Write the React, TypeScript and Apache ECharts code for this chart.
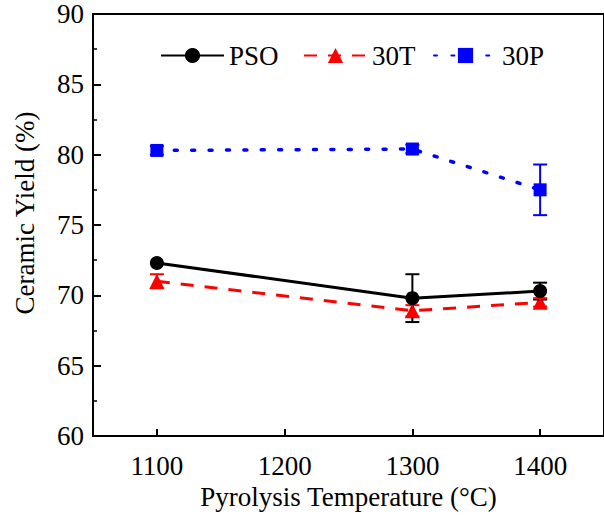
import React, { useEffect, useRef } from "react";
import * as echarts from "echarts";

const temperatures = [1100, 1300, 1400];
const xTicks = [1100, 1200, 1300, 1400];

const psoYield = [72.3, 69.8, 70.3];
const psoErr = [0, 1.7, 0.6];

const t30Yield = [71.0, 68.9, 69.5];
const t30Err = [0.5, 0.4, 0.3];

const p30Yield = [80.3, 80.4, 77.5];
const p30Err = [0.3, 0.3, 1.8];

const FONT = "'Liberation Serif', 'Times New Roman', serif";
const FS = 27;

function pairs(ys: number[]) {
  return temperatures.map((t, i) => [t, ys[i]]);
}

function errData(ys: number[], es: number[]) {
  return temperatures
    .map((t, i) => [t, ys[i] - es[i], ys[i] + es[i]])
    .filter((d) => d[2] - d[1] > 0);
}

function errorSeries(name: string, ys: number[], es: number[], color: string) {
  return {
    type: "custom",
    name,
    data: errData(ys, es),
    z: 3,
    renderItem: (params: any, api: any) => {
      const x = api.value(0);
      const lo = api.coord([x, api.value(1)]);
      const hi = api.coord([x, api.value(2)]);
      const hw = 7;
      const style = { stroke: color, lineWidth: 2 };
      return {
        type: "group",
        children: [
          { type: "line", shape: { x1: lo[0], y1: lo[1], x2: hi[0], y2: hi[1] }, style },
          { type: "line", shape: { x1: lo[0] - hw, y1: lo[1], x2: lo[0] + hw, y2: lo[1] }, style },
          { type: "line", shape: { x1: hi[0] - hw, y1: hi[1], x2: hi[0] + hw, y2: hi[1] }, style },
        ],
      };
    },
  };
}

function legendFor(name: string, left: number) {
  return {
    data: [name],
    left,
    top: 42,
    padding: 0,
    itemWidth: 63,
    itemHeight: 19,
    selectedMode: false,
    textStyle: { fontFamily: FONT, fontSize: FS, color: "#000" },
  };
}

export default function App() {
  const ref = useRef<HTMLDivElement>(null);

  useEffect(() => {
    if (!ref.current) return;
    const chart = echarts.init(ref.current, undefined, { renderer: "svg" });
    chart.setOption({
      animation: false,
      backgroundColor: "#fff",
      grid: {
        left: 93,
        right: -5,
        top: 14,
        bottom: 80,
        show: true,
        borderColor: "#000",
        borderWidth: 2,
      },
      legend: [legendFor("PSO", 160), legendFor("30T", 303), legendFor("30P", 433)],
      xAxis: {
        type: "value",
        min: 1050,
        max: 1450,
        name: "Pyrolysis Temperature (°C)",
        nameLocation: "middle",
        nameGap: 46,
        nameTextStyle: { fontFamily: FONT, fontSize: FS, color: "#000" },
        axisLine: { lineStyle: { color: "#000", width: 2 } },
        axisTick: {
          inside: true,
          length: 7,
          lineStyle: { color: "#000", width: 2 },
          customValues: xTicks,
        },
        axisLabel: {
          fontFamily: FONT,
          fontSize: FS,
          color: "#000",
          margin: 16,
          customValues: xTicks,
          formatter: (v: number) => String(v),
        },
        splitLine: { show: false },
      },
      yAxis: {
        type: "value",
        min: 60,
        max: 90,
        interval: 5,
        axisLine: { show: true, lineStyle: { color: "#000", width: 2 } },
        axisTick: { show: true, inside: true, length: 8, lineStyle: { color: "#000", width: 2 } },
        minorTick: {
          show: true,
          splitNumber: 2,
          length: 4,
          lineStyle: { color: "#000", width: 1.5 },
        },
        axisLabel: { fontFamily: FONT, fontSize: FS, color: "#000", margin: 9 },
        splitLine: { show: false },
      },
      graphic: [
        {
          type: "text",
          x: 25,
          y: 213,
          rotation: Math.PI / 2,
          style: {
            text: "Ceramic Yield (%)",
            font: `${FS}px ${FONT}`,
            fill: "#000",
            textAlign: "center",
            textVerticalAlign: "middle",
          },
        },
      ],
      series: [
        {
          name: "30T",
          type: "line",
          data: pairs(t30Yield),
          symbol: "triangle",
          symbolSize: 15,
          itemStyle: { color: "#ff0000" },
          lineStyle: { color: "#ff0000", width: 3, type: [13, 11] },
          z: 2,
        },
        {
          name: "PSO",
          type: "line",
          data: pairs(psoYield),
          symbol: "circle",
          symbolSize: 14,
          itemStyle: { color: "#000" },
          lineStyle: { color: "#000", width: 3 },
          z: 4,
        },
        {
          name: "30P",
          type: "line",
          data: pairs(p30Yield),
          symbol: "rect",
          symbolSize: 13,
          itemStyle: { color: "#0000ff" },
          lineStyle: { color: "#0000ff", width: 3.5, type: [3, 14.4], cap: "round" },
          z: 2,
        },
        errorSeries("PSO err", psoYield, psoErr, "#000"),
        errorSeries("30T err", t30Yield, t30Err, "#ff0000"),
        errorSeries("30P err", p30Yield, p30Err, "#0000ff"),
      ],
    });
    return () => chart.dispose();
  }, []);

  return <div ref={ref} style={{ width: 604, height: 516, position: "absolute", left: 0, top: 0 }} />;
}
